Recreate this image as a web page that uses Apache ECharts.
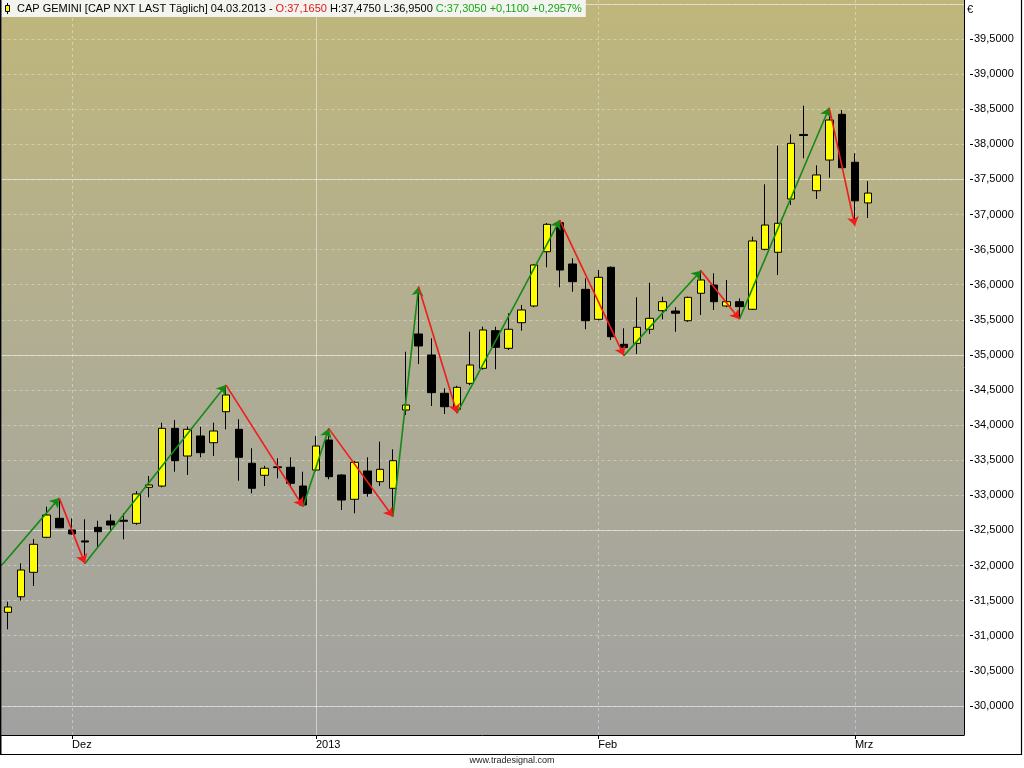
<!DOCTYPE html>
<html>
<head>
<meta charset="utf-8">
<script src="https://cdn.jsdelivr.net/npm/echarts@6/dist/echarts.min.js"></script>
<style>
html,body{margin:0;padding:0;background:#fff;}
#c{width:1024px;height:768px;}
</style>
</head>
<body>
<div id="c"></div>
<script>
// ---- data ----
const dates = [
 '26.11.2012','27.11.2012','28.11.2012','29.11.2012','30.11.2012',
 '03.12.2012','04.12.2012','05.12.2012','06.12.2012','07.12.2012','10.12.2012','11.12.2012','12.12.2012','13.12.2012','14.12.2012',
 '17.12.2012','18.12.2012','19.12.2012','20.12.2012','21.12.2012','24.12.2012','27.12.2012','28.12.2012','31.12.2012',
 '02.01.2013','03.01.2013','04.01.2013','07.01.2013','08.01.2013','09.01.2013','10.01.2013','11.01.2013','14.01.2013','15.01.2013',
 '16.01.2013','17.01.2013','18.01.2013','21.01.2013','22.01.2013','23.01.2013','24.01.2013','25.01.2013','28.01.2013','29.01.2013',
 '30.01.2013','31.01.2013',
 '01.02.2013','04.02.2013','05.02.2013','06.02.2013','07.02.2013','08.02.2013','11.02.2013','12.02.2013','13.02.2013','14.02.2013',
 '15.02.2013','18.02.2013','19.02.2013','20.02.2013','21.02.2013','22.02.2013','25.02.2013','26.02.2013','27.02.2013','28.02.2013',
 '01.03.2013','04.03.2013'
];
const futureDates = ['05.03.2013','06.03.2013','07.03.2013','08.03.2013','11.03.2013','12.03.2013','13.03.2013'];
const opens = [31.333,31.555,31.903,32.402,32.672,32.506,32.35,32.544,32.634,32.645,32.601,33.114,33.132,33.954,33.56,33.845,33.749,34.191,33.94,33.456,
 33.285,33.405,33.399,33.132,33.36,33.788,33.289,32.943,33.346,33.194,33.1,34.215,35.298,34.999,34.453,34.225,34.595,34.809,35.345,35.094,
 35.459,35.697,36.47,36.883,36.295,35.934,35.507,36.248,35.151,35.165,35.365,35.63,35.625,35.487,35.878,35.996,35.697,35.758,35.65,36.504,
 36.462,37.221,38.14,37.339,37.776,38.427,37.744,37.165];
const closes = [31.409,31.936,32.302,32.719,32.538,32.449,32.335,32.482,32.577,32.63,33.019,33.147,33.954,33.493,33.94,33.607,33.916,34.429,33.541,33.1,
 33.385,33.395,33.171,32.862,33.702,33.265,32.933,33.47,33.028,33.37,33.493,34.286,35.127,34.462,34.262,34.538,34.856,35.355,35.108,35.365,
 35.64,36.281,36.86,36.209,36.043,35.487,36.105,35.259,35.103,35.393,35.521,35.758,35.593,35.82,36.067,35.758,35.758,35.687,36.623,36.85,
 36.875,38.014,38.125,37.563,38.346,37.667,37.195,37.305];
const lows = [31.091,31.499,31.708,32.39,32.53,32.44,32.031,32.245,32.506,32.373,32.58,32.971,33.114,33.336,33.289,33.541,33.56,33.94,33.208,33.028,
 33.132,33.242,33.13,32.84,33.34,33.228,32.791,32.744,32.98,33.132,32.695,34.144,34.87,34.272,34.158,34.17,34.57,34.79,34.795,35.07,
 35.345,35.68,36.248,35.963,35.9,35.365,35.49,35.212,34.99,35.013,35.298,35.507,35.33,35.47,35.568,35.64,35.68,35.51,35.64,36.49,
 36.138,37.135,37.801,37.221,37.524,37.66,36.86,36.95];
const highs = [31.484,32.031,32.377,32.838,32.957,32.672,32.658,32.638,32.729,32.744,33.06,33.275,34.034,34.073,33.98,33.977,34.034,34.571,34.083,33.67,
 33.42,33.527,33.541,33.336,33.845,33.954,33.3,33.49,33.541,33.764,33.655,35.046,35.972,35.236,34.524,34.56,35.33,35.402,35.402,35.593,
 35.711,36.29,36.88,36.92,36.376,36.091,36.209,36.26,35.379,35.82,36.028,35.829,35.68,35.83,36.209,36.162,36.067,35.806,36.684,37.43,
 37.98,38.142,38.55,37.7,38.517,38.489,37.872,37.475];
// zigzag swing points (candle index, price)
const zigIdx = [-0.5,4,6,17,23,25,30,32,35,43,48,54,57,64,66];
const zigVal = [32.0,32.96,32.03,34.57,32.84,33.95,32.695,35.97,34.17,36.92,34.99,36.2,35.51,38.52,36.84];
// axis ticks
const tickDates = ['03.12.2012','02.01.2013','01.02.2013','01.03.2013'];
const tickLabels = ['Dez','2013','Feb','Mrz'];
const yTicks = [30.0,30.5,31.0,31.5,32.0,32.5,33.0,33.5,34.0,34.5,35.0,35.5,36.0,36.5,37.0,37.5,38.0,38.5,39.0,39.5];
const yMin = 29.5855, yMax = 40.0556;

// ---- build ----
const cats = dates.concat(futureDates);
const tickIdx = tickDates.map(d => cats.indexOf(d));
const candles = opens.map((o, i) => [o, closes[i], lows[i], highs[i]]);
const upSeg = [], downSeg = [];
for (let i = 1; i < zigIdx.length; i++) {
  const seg = {coords: [[zigIdx[i-1], zigVal[i-1]], [zigIdx[i], zigVal[i]]]};
  (zigVal[i] > zigVal[i-1] ? upSeg : downSeg).push(seg);
}
const fmt = v => v.toFixed(4).replace('.', ',');
const n = opens.length;
const chg = closes[n-1] - closes[n-2];
const titleText = '{k|CAP GEMINI [CAP NXT LAST Täglich] ' + dates[n-1] + ' - }{r|O:' + fmt(opens[n-1]) +
  '}{k| H:' + fmt(highs[n-1]) + ' L:' + fmt(lows[n-1]) + ' }{g|C:' + fmt(closes[n-1]) + ' +' + fmt(chg) +
  ' +' + fmt(chg / closes[n-2] * 100) + '%}';

const FONT = 'Liberation Sans';
const DOT = {color: 'rgba(255,255,255,0.36)', type: [3, 3], width: 1};
const SOLID = {color: 'rgba(240,240,228,0.6)', type: 'solid', width: 1};
const chart = echarts.init(document.getElementById('c'), null, {renderer: 'canvas'});
const bg = new echarts.graphic.LinearGradient(0, 0, 0, 1, [
  {offset: 0, color: '#bfb67b'},
  {offset: 0.5, color: '#b0ad94'},
  {offset: 1, color: '#a1a1a1'}
]);
chart.setOption({
  animation: false,
  backgroundColor: '#ffffff',
  title: {
    text: titleText, left: 0, top: 0,
    padding: [3, 4, 3, 17],
    backgroundColor: '#f3f3ef',
    textStyle: {
      fontFamily: FONT, fontSize: 11, fontWeight: 'normal',
      rich: {
        k: {color: '#000000', fontFamily: FONT, fontSize: 11},
        r: {color: '#e01818', fontFamily: FONT, fontSize: 11},
        g: {color: '#17a817', fontFamily: FONT, fontSize: 11}
      }
    }
  },
  grid: {left: 1.5, right: 60, top: 0, bottom: 33, show: true, backgroundColor: bg, borderWidth: 0},
  xAxis: [{
    type: 'category', data: cats, boundaryGap: true,
    axisLine: {show: true, onZero: false, lineStyle: {color: '#000', width: 1}},
    axisTick: {show: true, alignWithLabel: true, length: 4, lineStyle: {color: '#000'},
      interval: i => tickIdx.includes(i)},
    axisLabel: {interval: i => tickIdx.includes(i), align: 'left', margin: 4,
      fontFamily: FONT, fontSize: 11, color: '#000',
      formatter: (v, i) => tickLabels[tickIdx.indexOf(i)] || ''},
    splitLine: {show: false}
  }, {
    type: 'value', min: -0.5, max: cats.length - 0.5, show: false,
    axisLine: {onZero: false}
  }],
  yAxis: [{
    type: 'value', position: 'right', min: yMin, max: yMax,
    splitNumber: 20, minInterval: 0.5, maxInterval: 0.5,
    axisLine: {show: true, onZero: false, lineStyle: {color: '#000', width: 1}},
    axisTick: {show: false},
    axisLabel: {show: false},
    splitLine: {show: true, showMinLine: false, showMaxLine: false, lineStyle: DOT}
  }, {
    type: 'value', position: 'right', min: yMin, max: yMax,
    splitNumber: 4, minInterval: 2.5, maxInterval: 2.5,
    axisLine: {show: false, onZero: false},
    axisTick: {show: false}, axisLabel: {show: false},
    splitLine: {show: true, showMinLine: false, showMaxLine: false, lineStyle: SOLID}
  }, {
    type: 'value', position: 'right', min: yMin, max: yMax, offset: 6,
    axisLine: {show: false, onZero: false},
    axisTick: {show: true, inside: false, length: 3, customValues: yTicks, lineStyle: {color: '#000'}},
    axisLabel: {show: true, margin: 4, customValues: yTicks, fontFamily: FONT, fontSize: 11, color: '#000',
      formatter: v => fmt(v)},
    splitLine: {show: false}
  }],
  series: [{
    type: 'line', name: 'months', data: [], xAxisIndex: 0, yAxisIndex: 0, z: 1, silent: true,
    markLine: {
      z: 1, silent: true, symbol: ['none', 'none'], label: {show: false}, animation: false,
      emphasis: {disabled: true},
      data: tickIdx.map((i, k) => ({
        xAxis: cats[i],
        lineStyle: tickLabels[k] === '2013' ? SOLID : DOT
      }))
    }
  }, {
    type: 'candlestick', name: 'CAP GEMINI', data: candles,
    xAxisIndex: 0, yAxisIndex: 0, barWidth: 8,
    itemStyle: {color: '#ffff00', color0: '#000000', borderColor: '#000000', borderColor0: '#000000', borderWidth: 1},
    emphasis: {disabled: true},
    z: 3
  }, {
    type: 'lines', coordinateSystem: 'cartesian2d', xAxisIndex: 1, yAxisIndex: 0,
    data: upSeg, symbol: ['none', 'arrow'], symbolSize: 9,
    lineStyle: {color: '#148a14', width: 1.6, opacity: 1}, z: 5, silent: true
  }, {
    type: 'lines', coordinateSystem: 'cartesian2d', xAxisIndex: 1, yAxisIndex: 0,
    data: downSeg, symbol: ['none', 'arrow'], symbolSize: 9,
    lineStyle: {color: '#f01c1c', width: 1.6, opacity: 1}, z: 5, silent: true
  }],
  graphic: [
    {type: 'line', shape: {x1: 0.5, y1: 0, x2: 0.5, y2: 755}, style: {stroke: '#000', lineWidth: 2}, z: 10, silent: true},
    {type: 'line', shape: {x1: 0, y1: 754.5, x2: 1022, y2: 754.5}, style: {stroke: '#000', lineWidth: 1.2}, z: 10, silent: true},
    {type: 'line', shape: {x1: 1021.5, y1: 0, x2: 1021.5, y2: 755}, style: {stroke: '#000', lineWidth: 1.2}, z: 10, silent: true},
    {type: 'line', shape: {x1: 7.5, y1: 3, x2: 7.5, y2: 14}, style: {stroke: '#000', lineWidth: 1}, z: 20, silent: true},
    {type: 'rect', shape: {x: 5.5, y: 5.5, width: 4, height: 6}, style: {fill: '#ffff00', stroke: '#000', lineWidth: 1}, z: 21, silent: true},
    {type: 'text', x: 967, y: 4, style: {text: '€', fill: '#000', font: '11px "Liberation Sans"'}, z: 10, silent: true},
    {type: 'text', x: 512, y: 756, style: {text: 'www.tradesignal.com', fill: '#222', font: '9px "Liberation Sans"', textAlign: 'center'}, z: 10, silent: true}
  ]
});
</script>
</body>
</html>
